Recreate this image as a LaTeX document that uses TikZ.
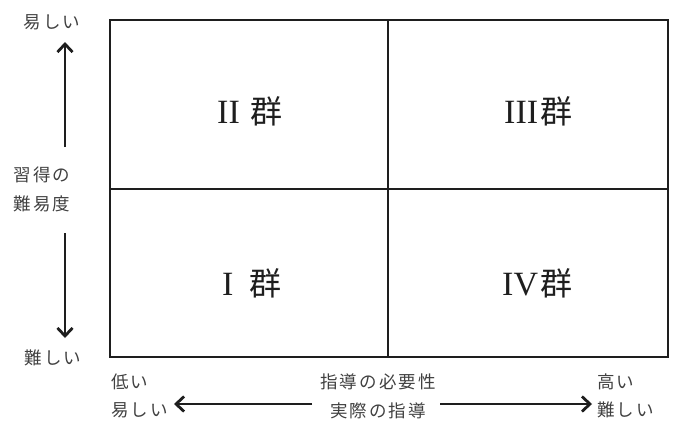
\documentclass[tikz,border=0pt]{standalone}
\usepackage{fontspec}
\usetikzlibrary{arrows.meta}
\newfontfamily\jp[LetterSpace=12]{Noto Sans CJK JP}
\newfontfamily\jpq{Noto Sans CJK JP}
\newfontfamily\rmn{Liberation Serif}
\definecolor{txt}{HTML}{404040}
\definecolor{ln}{HTML}{1E1E1E}
\begin{document}
\begin{tikzpicture}[x=1pt,y=-1pt,
  lab/.style={font=\jp\fontsize{17.5}{21}\selectfont, text=txt, inner sep=0pt, align=center},
  quad/.style={font=\fontsize{34}{36}\selectfont, text=ln, inner sep=0pt, anchor=base west},
  grid/.style={draw=ln, line width=2.8pt},
  arr/.style={draw=ln, line width=2.8pt, -{Straight Barb[length=8pt,width=15pt,line width=2.8pt]}}]
\useasboundingbox (0,0) rectangle (687,426);
% box
\draw[grid] (110,20) rectangle (668,357);
\draw[grid] (388,20) -- (388,357);
\draw[grid] (110,189) -- (668,189);
% quadrant labels
\node[quad] (q2) at (217,123) {{\rmn II}\hspace{11pt}{\jpq\fontsize{32}{34}\selectfont 群}};
\node[quad] (q3) at (504,123) {{\rmn III}\hspace{2pt}{\jpq\fontsize{32}{34}\selectfont 群}};
\node[quad] (q1) at (222,295) {{\rmn I}\hspace{16pt}{\jpq\fontsize{32}{34}\selectfont 群}};
\node[quad] (q4) at (502,295) {{\rmn IV}\hspace{2pt}{\jpq\fontsize{32}{34}\selectfont 群}};
% left labels
\node[lab] (easyT) at (52,22) {易しい};
\node[lab] (axisY) at (42,189) {習得の\\[8pt]難易度};
\node[lab] (hardB) at (53,358) {難しい};
\coordinate (upS) at (65,147);
\coordinate (upE) at (65,42);
\coordinate (dnS) at (65,233);
\coordinate (dnE) at (65,338);
\draw[arr] (upS) -- (upE);
\draw[arr] (dnS) -- (dnE);
% bottom labels
\node[lab, anchor=west] (low) at (111,382) {低い};
\node[lab, anchor=west] (easyB) at (111,410) {易しい};
\node[lab] (axisX) at (378,396) {指導の必要性\\[8pt]実際の指導};
\node[lab, anchor=west] (high) at (597,382) {高い};
\node[lab, anchor=west] (hardR) at (597,410) {難しい};
\coordinate (lS) at (312,404);
\coordinate (lE) at (174,404);
\coordinate (rS) at (440,404);
\coordinate (rE) at (592,404);
\draw[arr] (lS) -- (lE);
\draw[arr] (rS) -- (rE);
\end{tikzpicture}
\end{document}
